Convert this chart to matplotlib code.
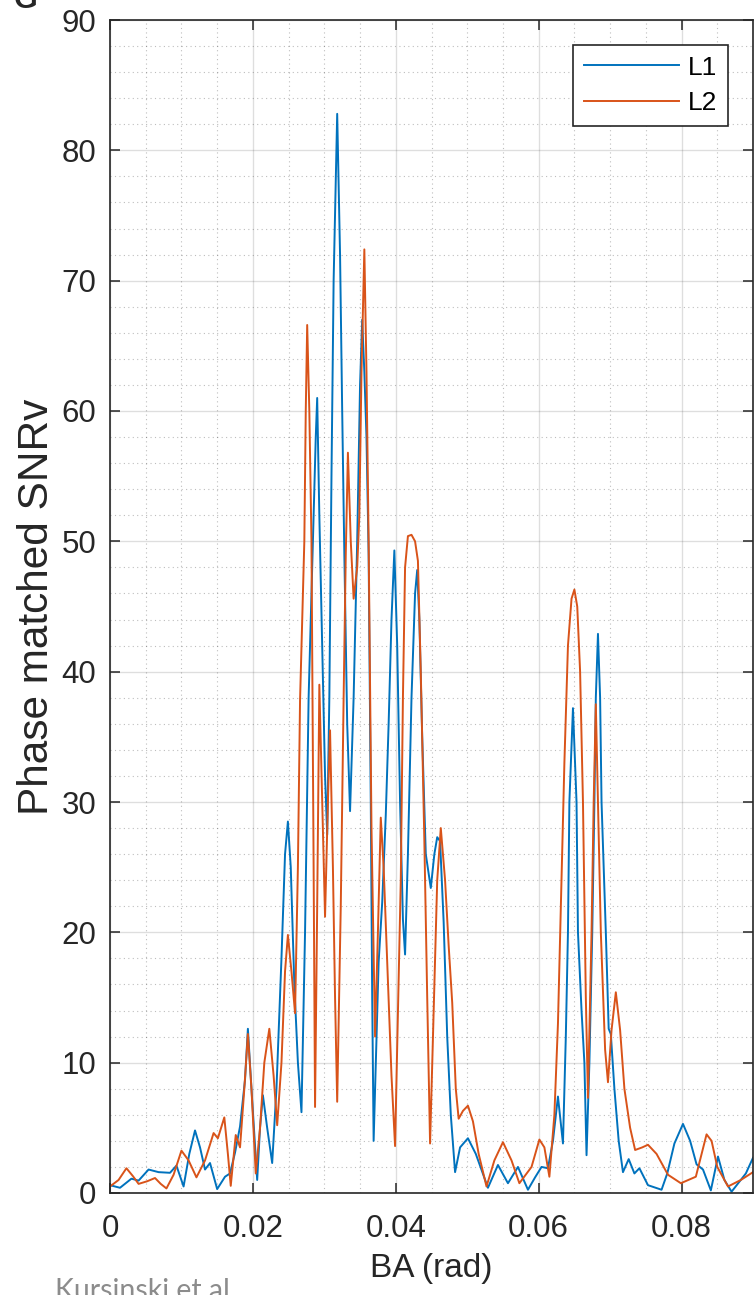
import matplotlib
matplotlib.use('Agg')
import matplotlib.pyplot as plt
from matplotlib.ticker import MultipleLocator

# (BA in rad, phase matched SNRv) for each frequency
l1_points = [
    (0.0000, 0.6), (0.0014, 0.4), (0.0030, 1.1), (0.0040, 0.95), (0.0054, 1.8),
    (0.0068, 1.6), (0.0084, 1.55), (0.0093, 2.1), (0.0103, 0.5), (0.0111, 3.0),
    (0.0119, 4.8), (0.0126, 3.5), (0.0133, 1.8), (0.0140, 2.3), (0.0150, 0.3),
    (0.0161, 1.25), (0.0168, 1.5), (0.0175, 3.1), (0.0182, 5.1), (0.0189, 8.7),
    (0.0193, 12.6), (0.0198, 8.0), (0.0206, 1.0), (0.0210, 5.0), (0.0214, 7.5),
    (0.0220, 5.0), (0.0227, 2.3), (0.0233, 8.0), (0.0240, 18.0), (0.0245, 26.0),
    (0.0249, 28.5), (0.0253, 25.0), (0.0258, 16.0), (0.0263, 10.0), (0.0268, 6.2),
    (0.0273, 20.0), (0.0278, 38.0), (0.0284, 50.0), (0.0288, 58.0), (0.0290, 61.0),
    (0.0293, 52.0), (0.0297, 42.0), (0.0301, 32.0), (0.0304, 27.5), (0.0307, 38.0),
    (0.0310, 55.0), (0.0313, 70.0), (0.0318, 82.8), (0.0322, 72.0), (0.0325, 60.0),
    (0.0328, 49.0), (0.0332, 36.0), (0.0336, 29.3), (0.0341, 38.0), (0.0346, 50.0),
    (0.0350, 62.0), (0.0353, 67.0), (0.0356, 63.0), (0.0359, 58.0), (0.0362, 49.0),
    (0.0365, 30.0), (0.0367, 15.0), (0.0369, 4.0), (0.0373, 12.0), (0.0376, 17.7),
    (0.0381, 22.3), (0.0386, 29.0), (0.0390, 36.0), (0.0394, 44.0), (0.0398, 49.3),
    (0.0402, 42.0), (0.0406, 30.0), (0.0410, 21.0), (0.0413, 18.3), (0.0417, 26.0),
    (0.0422, 38.0), (0.0427, 46.0), (0.0430, 47.8), (0.0433, 44.0), (0.0437, 35.0),
    (0.0442, 26.0), (0.0449, 23.4), (0.0454, 26.0), (0.0458, 27.3), (0.0462, 27.0),
    (0.0467, 20.8), (0.0472, 12.0), (0.0477, 6.0), (0.0483, 1.6), (0.0490, 3.5),
    (0.0501, 4.2), (0.0512, 3.0), (0.0529, 0.4), (0.0543, 2.15), (0.0557, 0.75),
    (0.0571, 2.0), (0.0585, 0.25), (0.0595, 1.2), (0.0604, 2.0), (0.0613, 1.9),
    (0.0620, 4.0), (0.0627, 7.4), (0.0634, 3.8), (0.0638, 12.0), (0.0641, 20.0),
    (0.0643, 30.0), (0.0648, 37.2), (0.0653, 30.0), (0.0655, 20.0), (0.0660, 14.0),
    (0.0664, 10.0), (0.0667, 2.9), (0.0671, 10.0), (0.0675, 20.0), (0.0678, 30.0),
    (0.0680, 38.0), (0.0683, 42.9), (0.0686, 38.0), (0.0688, 30.0), (0.0694, 20.0),
    (0.0698, 12.6), (0.0701, 12.2), (0.0706, 8.0), (0.0712, 4.0), (0.0718, 1.6),
    (0.0726, 2.6), (0.0734, 1.5), (0.0741, 1.9), (0.0753, 0.6), (0.0772, 0.25),
    (0.0780, 1.5), (0.0790, 3.8), (0.0802, 5.3), (0.0812, 4.0), (0.0821, 2.2),
    (0.0830, 1.8), (0.0841, 0.2), (0.0851, 2.8), (0.0860, 1.0), (0.0870, 0.1),
    (0.0880, 0.8), (0.0890, 1.5), (0.0900, 2.7),
]

l2_points = [
    (0.0000, 0.5), (0.0012, 1.0), (0.0023, 1.9), (0.0032, 1.3), (0.0040, 0.7),
    (0.0052, 0.9), (0.0063, 1.15), (0.0071, 0.7), (0.0079, 0.35), (0.0089, 1.4),
    (0.0100, 3.25), (0.0110, 2.5), (0.0121, 1.2), (0.0133, 2.5), (0.0145, 4.6),
    (0.0151, 4.2), (0.0160, 5.8), (0.0165, 3.0), (0.0169, 0.55), (0.0176, 4.45),
    (0.0182, 3.5), (0.0188, 8.0), (0.0193, 12.2), (0.0198, 8.0), (0.0204, 1.5),
    (0.0210, 5.0), (0.0216, 10.0), (0.0223, 12.6), (0.0229, 9.0), (0.0234, 5.2),
    (0.0240, 10.0), (0.0245, 17.0), (0.0249, 19.8), (0.0254, 17.0), (0.0259, 13.8),
    (0.0263, 25.0), (0.0266, 37.8), (0.0272, 50.0), (0.0274, 60.0), (0.0276, 66.6),
    (0.0279, 60.0), (0.0282, 50.0), (0.0285, 25.0), (0.0287, 6.6), (0.0290, 22.0),
    (0.0293, 39.0), (0.0297, 30.0), (0.0301, 21.2), (0.0305, 30.0), (0.0308, 35.5),
    (0.0312, 25.0), (0.0315, 15.0), (0.0318, 7.0), (0.0323, 22.0), (0.0327, 38.0),
    (0.0330, 49.0), (0.0333, 56.8), (0.0337, 50.0), (0.0341, 45.6), (0.0346, 48.0),
    (0.0349, 52.0), (0.0352, 63.0), (0.0356, 72.4), (0.0359, 63.0), (0.0362, 50.0),
    (0.0366, 28.0), (0.0371, 12.0), (0.0375, 20.0), (0.0379, 28.8), (0.0383, 25.0),
    (0.0388, 17.7), (0.0394, 9.0), (0.0399, 3.6), (0.0403, 14.0), (0.0407, 24.0),
    (0.0410, 38.0), (0.0413, 48.0), (0.0417, 50.4), (0.0422, 50.5), (0.0427, 50.0),
    (0.0431, 48.5), (0.0435, 40.0), (0.0440, 27.0), (0.0444, 15.0), (0.0448, 3.8),
    (0.0453, 14.0), (0.0458, 24.0), (0.0463, 28.0), (0.0469, 24.0), (0.0474, 19.0),
    (0.0479, 14.6), (0.0484, 8.0), (0.0488, 5.7), (0.0494, 6.3), (0.0501, 6.7),
    (0.0508, 5.5), (0.0516, 3.0), (0.0527, 0.5), (0.0538, 2.5), (0.0550, 3.9),
    (0.0562, 2.5), (0.0573, 0.75), (0.0590, 2.0), (0.0601, 4.1), (0.0608, 3.5),
    (0.0615, 1.25), (0.0622, 6.0), (0.0627, 13.0), (0.0631, 22.0), (0.0636, 33.0),
    (0.0641, 42.0), (0.0646, 45.6), (0.0650, 46.3), (0.0654, 45.0), (0.0658, 40.0),
    (0.0662, 30.0), (0.0666, 15.0), (0.0669, 7.3), (0.0674, 20.0), (0.0677, 30.0),
    (0.0680, 37.5), (0.0683, 30.0), (0.0687, 20.0), (0.0693, 11.0), (0.0697, 8.5),
    (0.0702, 12.5), (0.0708, 15.4), (0.0714, 12.5), (0.0720, 8.0), (0.0728, 5.0),
    (0.0735, 3.3), (0.0745, 3.5), (0.0753, 3.7), (0.0765, 3.0), (0.0781, 1.4),
    (0.0799, 0.75), (0.0820, 1.25), (0.0828, 3.0), (0.0835, 4.5), (0.0842, 4.0),
    (0.0850, 2.0), (0.0865, 0.5), (0.0883, 1.0), (0.0900, 1.6),
]

x_ticks = [0, 0.02, 0.04, 0.06, 0.08]
x_tick_labels = ['0', '0.02', '0.04', '0.06', '0.08']
y_ticks = [0, 10, 20, 30, 40, 50, 60, 70, 80, 90]

plt.rcParams['font.family'] = ['Liberation Sans', 'DejaVu Sans']
dark = '#262626'

fig = plt.figure(figsize=(7.56, 12.95), dpi=100)
ax = fig.add_axes([110 / 756, 1 - 1193 / 1295, 643 / 756, 1173 / 1295])

ba1, snr1 = zip(*l1_points)
ba2, snr2 = zip(*l2_points)
ax.plot(ba1, snr1, color='#0072BD', lw=1.4, label='L1')
ax.plot(ba2, snr2, color='#D95319', lw=1.4, label='L2')

ax.set_xlim(0, 0.09)
ax.set_ylim(0, 90)
ax.set_xticks(x_ticks)
ax.set_xticklabels(x_tick_labels)
ax.set_yticks(y_ticks)
ax.xaxis.set_minor_locator(MultipleLocator(0.005))
ax.yaxis.set_minor_locator(MultipleLocator(2))

# grid on + grid minor
ax.set_axisbelow(True)
ax.grid(which='major', color=dark, alpha=0.15, lw=1.0, ls='-')
ax.grid(which='minor', color=dark, alpha=0.3, lw=0.8, ls=(0, (1, 3)))

ax.tick_params(which='major', direction='in', length=7, width=1.1,
               top=True, right=True, labelsize=22.5, colors=dark)
ax.tick_params(axis='x', which='major', pad=15)
ax.tick_params(axis='y', which='major', pad=10)
ax.tick_params(which='minor', length=0)
for s in ax.spines.values():
    s.set_color(dark)
    s.set_linewidth(1.2)

ax.set_xlabel('BA (rad)', fontsize=24, color=dark)
ax.set_ylabel('Phase matched SNRv', fontsize=30.5, color=dark)
ax.xaxis.set_label_coords(0.5, -0.051)
ax.yaxis.set_label_coords(-0.083, 0.5)

leg = ax.legend(loc='upper right', bbox_to_anchor=(0.961, 0.9787), borderaxespad=0,
                fontsize=19, handlelength=3.6, handletextpad=0.35, labelspacing=0.45,
                borderpad=0.4, frameon=True, fancybox=False, edgecolor=dark, framealpha=1)
leg.get_frame().set_linewidth(1.2)
for t in leg.get_texts():
    t.set_color('black')

# panel letter and source note
fig.text(0.018, 1 - 8 / 1295, 'G', fontsize=22, fontweight='bold', color=dark,
         ha='left', va='baseline')
fig.text(55 / 756, 1 - 1299 / 1295, 'Kursinski et al.', fontsize=20.5, color='#8c8c8c',
         family=['Lato', 'DejaVu Sans'], ha='left', va='baseline')

fig.savefig('out.png', dpi=100)
